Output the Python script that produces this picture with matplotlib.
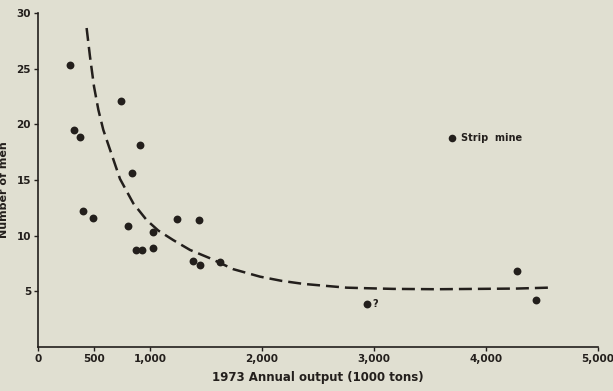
import matplotlib
matplotlib.use("Agg")
import matplotlib.pyplot as plt

# strip mine points (1000 tons, number of men)
output_k = [286, 321, 375, 738, 911, 836, 405, 488, 801, 875, 926, 1030, 1024,
            1238, 1435, 1381, 1446, 1625, 2940, 4274, 4444]
men = [25.3, 19.5, 18.9, 22.1, 18.1, 15.6, 12.2, 11.6, 10.9, 8.7, 8.7, 10.3, 8.9,
       11.5, 11.4, 7.7, 7.4, 7.6, 3.9, 6.8, 4.2]

# dashed curve
curve_x = [434, 464, 500, 539, 583, 637, 732, 851, 970, 1074, 1208, 1357, 1536,
           1744, 1982, 2176, 2369, 2548, 2756, 2935, 3172, 3560, 3917, 4274, 4554]
curve_y = [28.65, 26.1, 23.4, 21.3, 19.5, 17.9, 15.1, 12.9, 11.4, 10.46, 9.6, 8.72, 7.97,
           6.99, 6.32, 5.94, 5.67, 5.51, 5.33, 5.28, 5.22, 5.19, 5.22, 5.25, 5.33]

xticks = [0, 500, 1000, 2000, 3000, 4000, 5000]
xlabels = ["0", "500", "1,000", "2,000", "3,000", "4,000", "5,000"]
yticks = [5, 10, 15, 20, 25, 30]

bg = "#e0dfd1"
ink = "#231f1c"

fig = plt.figure(figsize=(6.13, 3.91), dpi=100, facecolor=bg)
ax = fig.add_axes([0.062, 0.1125, 0.9135, 0.8543])
ax.set_facecolor(bg)

ax.scatter(output_k, men, s=32, color=ink, zorder=3, linewidths=0)
line, = ax.plot(curve_x, curve_y, color=ink, lw=1.8, zorder=2)
line.set_dashes([5.2, 2.4])

ax.text(2990, 3.9, "?", fontsize=7, fontweight="bold", color=ink, va="center")

# legend marker
ax.scatter([3694], [18.8], s=30, color=ink, linewidths=0)
ax.text(3780, 18.8, "Strip  mine", fontsize=7, fontweight="bold", color=ink, va="center")

ax.set_xlim(0, 5000)
ax.set_ylim(0, 30)
ax.set_xticks(xticks)
ax.set_xticklabels(xlabels)
ax.set_yticks(yticks)
ax.tick_params(colors=ink, labelsize=7.5, length=3, width=1, pad=2)
for lab in ax.get_xticklabels() + ax.get_yticklabels():
    lab.set_fontweight("bold")

for s in ["top", "right"]:
    ax.spines[s].set_visible(False)
for s in ["left", "bottom"]:
    ax.spines[s].set_color(ink)
    ax.spines[s].set_linewidth(1.2)

ax.set_xlabel("1973 Annual output (1000 tons)", fontsize=8.5, fontweight="bold", color=ink, labelpad=5)
ax.set_ylabel("Number of men", fontsize=8, fontweight="bold", color=ink)
ax.yaxis.set_label_coords(-0.052, 0.47)

fig.savefig("out.png", dpi=100, facecolor=bg)
